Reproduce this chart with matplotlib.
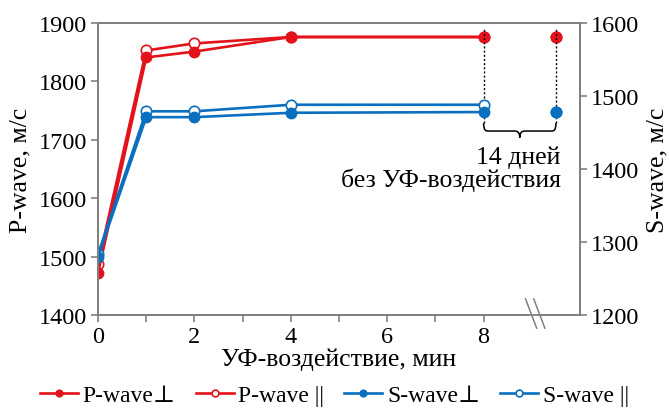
import matplotlib
matplotlib.use("Agg")
import matplotlib.pyplot as plt
from matplotlib.path import Path
from matplotlib.patches import PathPatch
import matplotlib.transforms as mtransforms

plt.rcParams['font.family'] = ['Liberation Serif', 'DejaVu Serif']

# Data
x_uv = [0, 1, 2, 4, 8]
x_after = [9.5]
p_perp = [1472, 1841, 1851, 1876, 1876]
p_par = [1487, 1853, 1865, 1876, 1876]
s_perp = [1280, 1471, 1471, 1477, 1478]
s_par = [1283, 1479, 1479, 1488, 1488]
p_perp_after = [1876]
p_par_after = [1876]
s_perp_after = [1478]
s_par_after = [1478]

xticks = [0, 1, 2, 3, 4, 5, 6, 7, 8]
xticklabels = ['0', '', '2', '', '4', '', '6', '', '8']
yticks_left = [1400, 1500, 1600, 1700, 1800, 1900]
yticks_right = [1200, 1300, 1400, 1500, 1600]

RED = '#e3121b'
BLUE = '#0a6fbf'
GRAY = '#808080'
FS_TICK = 17.5
FS_LAB = 18.5
FS_LEG = 17

fig = plt.figure(figsize=(6.69, 4.10), dpi=100)
ax = fig.add_axes([0.1465, 0.2293, 0.867 - 0.1465, 0.9415 - 0.2293])
ax2 = ax.twinx()

lw = 1.9
ms = 7.5
l1, = ax.plot(x_uv, p_par, '-o', color=RED, lw=lw, ms=ms, mfc='white', mec=RED, mew=1.2, label='P-wave ||')
l0, = ax.plot(x_uv, p_perp, '-o', color=RED, lw=lw, ms=ms, label='P-wave⊥')
ax.plot(x_after, p_par_after, 'o', color=RED, ms=ms, mfc='white', mec=RED, mew=1.2)
ax.plot(x_after, p_perp_after, 'o', color=RED, ms=ms)

l3, = ax2.plot(x_uv, s_par, '-o', color=BLUE, lw=lw, ms=ms, mfc='white', mec=BLUE, mew=1.2, label='S-wave ||')
l2, = ax2.plot(x_uv, s_perp, '-o', color=BLUE, lw=lw, ms=ms, label='S-wave⊥')
ax2.plot(x_after, s_par_after, 'o', color=BLUE, ms=ms, mfc='white', mec=BLUE, mew=1.2)
ax2.plot(x_after, s_perp_after, 'o', color=BLUE, ms=ms)

ax.set_xlim(0, 10)
ax.set_ylim(1400, 1900)
ax2.set_ylim(1200, 1600)
ax.set_xticks(xticks)
ax.set_xticklabels(xticklabels)
ax.set_yticks(yticks_left)
ax2.set_yticks(yticks_right)

for a in (ax, ax2):
    for s in a.spines.values():
        s.set_color(GRAY)
        s.set_linewidth(1.3)
    a.tick_params(axis='both', direction='out', length=5, width=1.2, color=GRAY,
                  labelsize=FS_TICK, labelcolor='black', pad=3)

ax.set_xlabel('УФ-воздействие, мин', fontsize=FS_LAB, labelpad=0)
ax.set_ylabel('P-wave, м/с', fontsize=FS_LAB, labelpad=5)
ax2.set_ylabel('S-wave, м/с', fontsize=FS_LAB, labelpad=5)

# Dotted vertical guides
for xv in [8, 9.5]:
    ax2.plot([xv, xv], [1463, 1593], ls=(0, (1.5, 1.5)), color='black', lw=1.0, zorder=1)

# Brace
x0, x1 = 8.0, 9.5
xm = (x0 + x1) / 2
yt, yb, ytip = 1463, 1452, 1443
verts = [(x0, yt), (x0, yb), (x0 + 0.05, yb), (x0 + 0.1, yb),
         (xm - 0.1, yb), (xm - 0.05, yb), (xm, yb - 2), (xm, ytip),
         (xm, yb - 2), (xm + 0.05, yb), (xm + 0.1, yb),
         (x1 - 0.1, yb), (x1 - 0.05, yb), (x1, yb), (x1, yt)]
codes = [Path.MOVETO, Path.CURVE4, Path.CURVE4, Path.CURVE4,
         Path.LINETO, Path.CURVE4, Path.CURVE4, Path.CURVE4,
         Path.CURVE4, Path.CURVE4, Path.CURVE4,
         Path.LINETO, Path.CURVE4, Path.CURVE4, Path.CURVE4]
ax2.add_patch(PathPatch(Path(verts, codes), fill=False, ec='black', lw=1.1))

ax2.text(9.6, 1401, '14 дней\nбез УФ-воздействия', ha='right', va='center',
         multialignment='right', fontsize=FS_LAB, linespacing=1.0)

# Axis break marks
trans = mtransforms.blended_transform_factory(ax.transData, ax.transAxes)
ax.add_patch(plt.Rectangle((8.95, -0.01), 0.17, 0.02, transform=trans, color='white',
                           clip_on=False, zorder=5))
for dx in [0.0, 0.17]:
    ax.plot([8.87 + dx, 9.1 + dx], [0.055, -0.045], transform=trans, color=GRAY,
            lw=1.1, clip_on=False, zorder=6)

fig.legend(handles=[l0, l1, l2, l3], labels=['P-wave⊥', 'P-wave ||', 'S-wave⊥', 'S-wave ||'],
           loc='lower center', bbox_to_anchor=(0.5, -0.045), ncol=4, frameon=False,
           fontsize=FS_LEG, markerscale=0.65, handlelength=1.6, handletextpad=0.2,
           columnspacing=0.85)

fig.savefig('out.png', dpi=100)
